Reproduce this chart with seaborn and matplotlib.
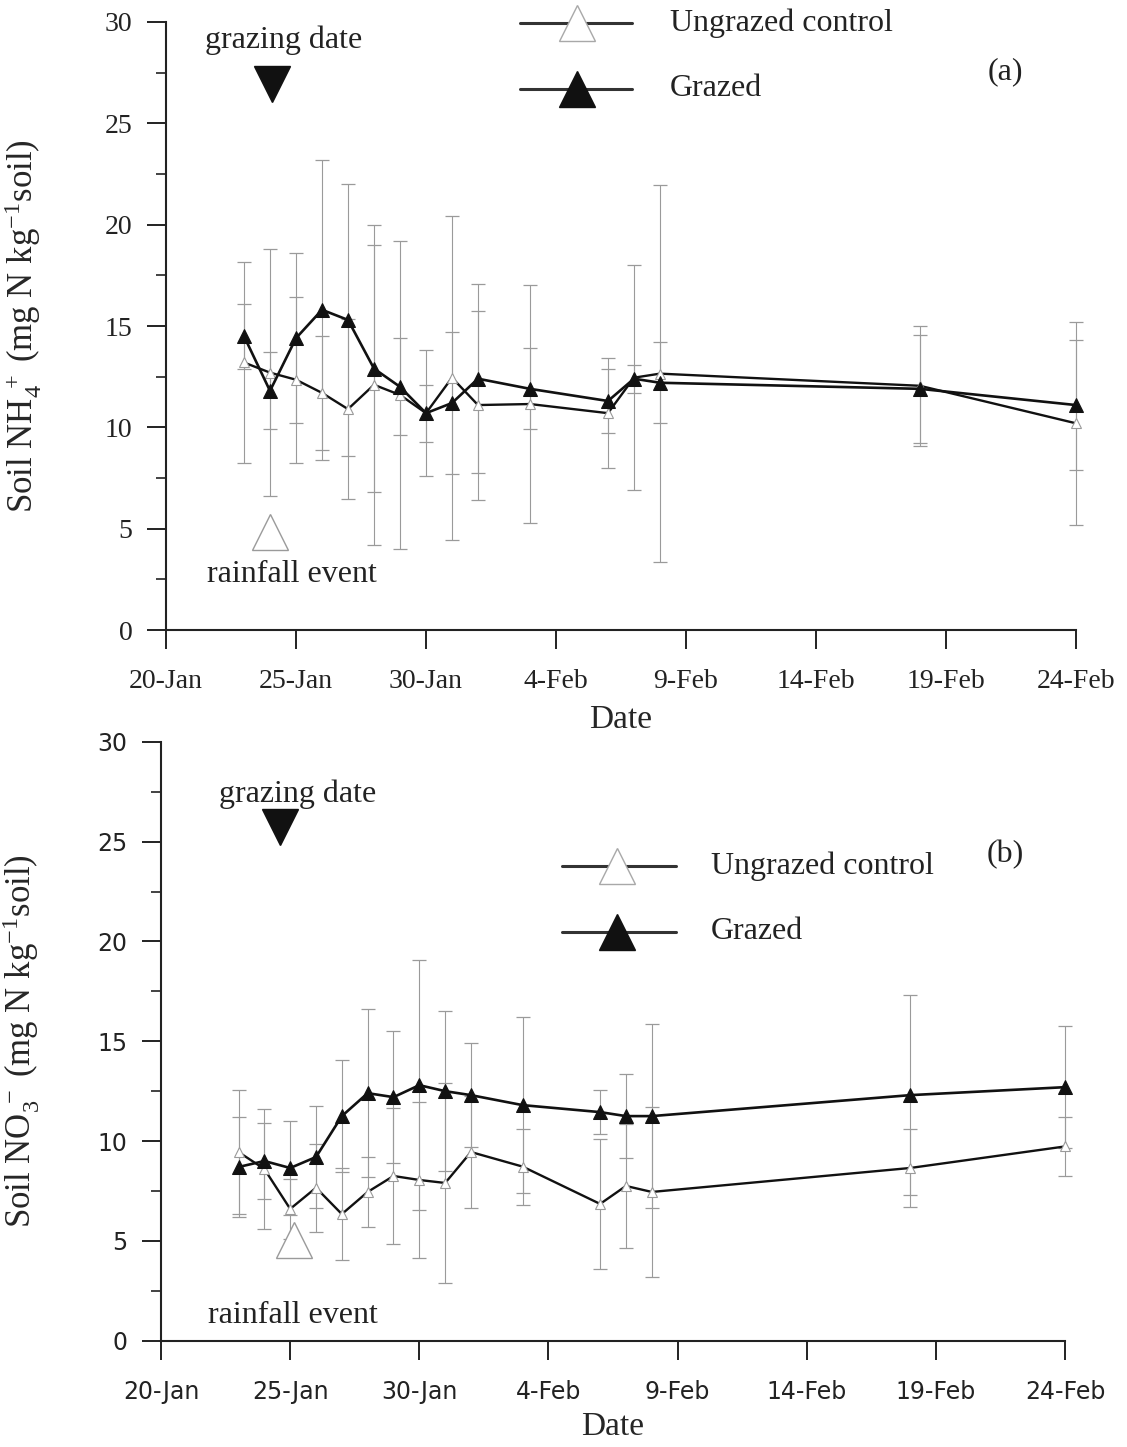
import numpy as np
import pandas as pd
import matplotlib
matplotlib.use("Agg")
import matplotlib.pyplot as plt
import seaborn as sns
from matplotlib.ticker import MultipleLocator

# ============================================================
# Data
# ============================================================

sample_dates = ["23-Jan", "24-Jan", "25-Jan", "26-Jan", "27-Jan", "28-Jan",
                "29-Jan", "30-Jan", "31-Jan", "1-Feb", "3-Feb", "6-Feb",
                "7-Feb", "8-Feb", "18-Feb", "24-Feb"]
tick_labels = ["20-Jan", "25-Jan", "30-Jan", "4-Feb", "9-Feb", "14-Feb",
               "19-Feb", "24-Feb"]

# (a) soil NH4+
nh4_grazed = [14.5, 11.8, 14.4, 15.8, 15.3, 12.9, 12.0, 10.7, 11.2, 12.4,
              11.9, 11.3, 12.4, 12.2, 11.9, 11.1]
nh4_grazed_sd = [1.6, 1.9, 4.2, 7.4, 6.7, 6.1, 2.4, 3.1, 3.5, 4.65,
                 2.0, 1.6, 0.7, 2.0, 2.65, 3.2]
nh4_ungrazed = [13.2, 12.7, 12.35, 11.7, 10.9, 12.1, 11.6, 10.7, 12.45, 11.1,
                11.15, 10.7, 12.45, 12.65, 12.05, 10.2]
nh4_ungrazed_sd = [4.95, 6.1, 4.1, 2.8, 4.45, 7.9, 7.6, 1.4, 8.0, 4.66,
                   5.87, 2.72, 5.55, 9.3, 2.97, 5.0]

# (b) soil NO3-
no3_grazed = [8.7, 9.0, 8.65, 9.2, 11.25, 12.4, 12.2, 12.8, 12.5, 12.3,
              11.8, 11.45, 11.25, 11.25, 12.3, 12.7]
no3_grazed_sd = [2.5, 1.9, 2.35, 2.55, 2.8, 4.2, 3.3, 6.25, 4.0, 2.6,
                 4.4, 1.1, 2.1, 4.6, 5.0, 3.05]
no3_ungrazed = [9.45, 8.6, 6.6, 7.66, 6.34, 7.45, 8.25, 8.05, 7.9, 9.45,
                8.72, 6.85, 7.75, 7.45, 8.65, 9.73]
no3_ungrazed_sd = [3.1, 3.0, 1.5, 2.2, 2.3, 1.75, 3.4, 3.9, 5.0, 2.8,
                   1.9, 3.25, 3.1, 4.25, 1.97, 1.5]

# ============================================================
# Style
# ============================================================

sns.set_theme(style="ticks")
plt.rcParams["font.family"] = ["Liberation Serif", "DejaVu Serif"]
plt.rcParams["mathtext.fontset"] = "custom"
plt.rcParams["mathtext.rm"] = "Liberation Serif"
plt.rcParams["mathtext.it"] = "Liberation Serif:italic"
plt.rcParams["axes.edgecolor"] = "#222222"
plt.rcParams["xtick.color"] = "#222222"
plt.rcParams["ytick.color"] = "#222222"
plt.rcParams["text.color"] = "#222222"

dates = pd.to_datetime(sample_dates, format="%d-%b")
ticks = pd.to_datetime(tick_labels, format="%d-%b")

fig = plt.figure(figsize=(11.27, 14.47), dpi=100)
ax_a = fig.add_axes([0.1473, 0.5646, 0.8074, 0.4202])
ax_b = fig.add_axes([0.1429, 0.0735, 0.8021, 0.4138])


def draw_panel(ax, grazed, grazed_sd, ungrazed, ungrazed_sd, ylabel,
               tick_font, tick_size, ylabel_x, xlabel_y):
    # error bars first, thin grey
    for vals, sd in [(ungrazed, ungrazed_sd), (grazed, grazed_sd)]:
        eb = ax.errorbar(dates, vals, yerr=sd, fmt="none", ecolor="#9a9a9a",
                         elinewidth=0.8, capsize=5, capthick=0.9, zorder=1)
        for art in eb.lines[1] + eb.lines[2]:
            art.set_clip_on(False)

    sns.lineplot(x=dates, y=ungrazed, ax=ax, color="#111111", linewidth=1.7,
                 marker="^", markersize=7, markerfacecolor="white",
                 markeredgecolor="#9a9a9a", markeredgewidth=0.8,
                 legend=False, zorder=3)
    sns.lineplot(x=dates, y=grazed, ax=ax, color="#111111", linewidth=1.9,
                 marker="^", markersize=10, markerfacecolor="#111111",
                 markeredgecolor="#111111", legend=False, zorder=4)
    for ln in ax.lines:
        ln.set_clip_on(False)

    ax.set_xlim(ticks[0], ticks[-1])
    ax.set_xticks(ticks)
    ax.set_xticklabels(tick_labels, family=tick_font, fontsize=tick_size)
    ax.set_ylim(0, 30)
    ax.set_yticks(range(0, 31, 5))
    ax.set_yticklabels([str(v) for v in range(0, 31, 5)],
                       family=tick_font, fontsize=tick_size)
    ax.yaxis.set_minor_locator(MultipleLocator(2.5))

    ax.tick_params(axis="x", direction="out", length=14, width=1.4, pad=14)
    ax.tick_params(axis="y", which="major", direction="out", length=14,
                   width=1.4, pad=10)
    ax.tick_params(axis="y", which="minor", direction="out", length=7,
                   width=1.2)

    sns.despine(ax=ax)
    ax.spines["left"].set_linewidth(1.5)
    ax.spines["bottom"].set_linewidth(1.5)

    ax.set_xlabel("Date", fontsize=24)
    ax.set_ylabel(ylabel, fontsize=25)
    ax.xaxis.set_label_coords(0.5, xlabel_y)
    ax.yaxis.set_label_coords(ylabel_x, 0.5)


def draw_legend(ax, y_ung, y_gra, x0, x1, xm, xt):
    tr = ax.transAxes
    ax.plot([x0, x1], [y_ung, y_ung], color="#333333", lw=2.2,
            transform=tr, clip_on=False, zorder=5)
    ax.plot([xm], [y_ung], marker="^", markersize=26, markerfacecolor="white",
            markeredgecolor="#a8a8a8", markeredgewidth=1.0,
            transform=tr, clip_on=False, zorder=6)
    ax.text(xt, y_ung, "Ungrazed control", fontsize=23, va="center",
            ha="left", transform=tr)
    ax.plot([x0, x1], [y_gra, y_gra], color="#333333", lw=2.2,
            transform=tr, clip_on=False, zorder=5)
    ax.plot([xm], [y_gra], marker="^", markersize=26,
            markerfacecolor="#111111", markeredgecolor="#111111",
            transform=tr, clip_on=False, zorder=6)
    ax.text(xt, y_gra, "Grazed", fontsize=23, va="center", ha="left",
            transform=tr)


def draw_events(ax, txt_g, tri_g, tri_r, txt_r):
    tr = ax.transAxes
    ax.text(txt_g[0], txt_g[1], "grazing date", fontsize=23, ha="center",
            va="center", transform=tr)
    ax.plot([tri_g[0]], [tri_g[1]], marker="v", markersize=26,
            color="#111111", transform=tr, clip_on=False)
    ax.plot([tri_r[0]], [tri_r[1]], marker="^", markersize=26,
            markerfacecolor="white", markeredgecolor="#9a9a9a",
            markeredgewidth=1.0, transform=tr, clip_on=False)
    ax.text(txt_r[0], txt_r[1], "rainfall event", fontsize=23, ha="center",
            va="center", transform=tr)


# ============================================================
# Panel (a)
# ============================================================

draw_panel(ax_a, nh4_grazed, nh4_grazed_sd, nh4_ungrazed, nh4_ungrazed_sd,
           r"Soil NH$\mathregular{_4^{\ +}}$ (mg N kg$\mathregular{^{-1}}$soil)",
           "Liberation Serif", 20, -0.134, -0.122)
draw_legend(ax_a, 0.998, 0.890, 0.389, 0.512, 0.452, 0.554)
draw_events(ax_a, (0.129, 0.970), (0.1165, 0.898), (0.114, 0.161),
            (0.1385, 0.0905))
ax_a.text(0.922, 0.918, "(a)", fontsize=23, ha="center", va="center",
          transform=ax_a.transAxes)

# ============================================================
# Panel (b)
# ============================================================

draw_panel(ax_b, no3_grazed, no3_grazed_sd, no3_ungrazed, no3_ungrazed_sd,
           r"Soil NO$\mathregular{_3^{\ -}}$ (mg N kg$\mathregular{^{-1}}$soil)",
           "DejaVu Sans", 17, -0.132, -0.118)
draw_legend(ax_b, 0.793, 0.683, 0.4436, 0.5697, 0.5044, 0.6084)
draw_events(ax_b, (0.1515, 0.912), (0.1316, 0.858), (0.1471, 0.168),
            (0.146, 0.0413))
ax_b.text(0.9336, 0.8113, "(b)", fontsize=23, ha="center", va="center",
          transform=ax_b.transAxes)

fig.savefig("out.png", dpi=100, facecolor="white")
